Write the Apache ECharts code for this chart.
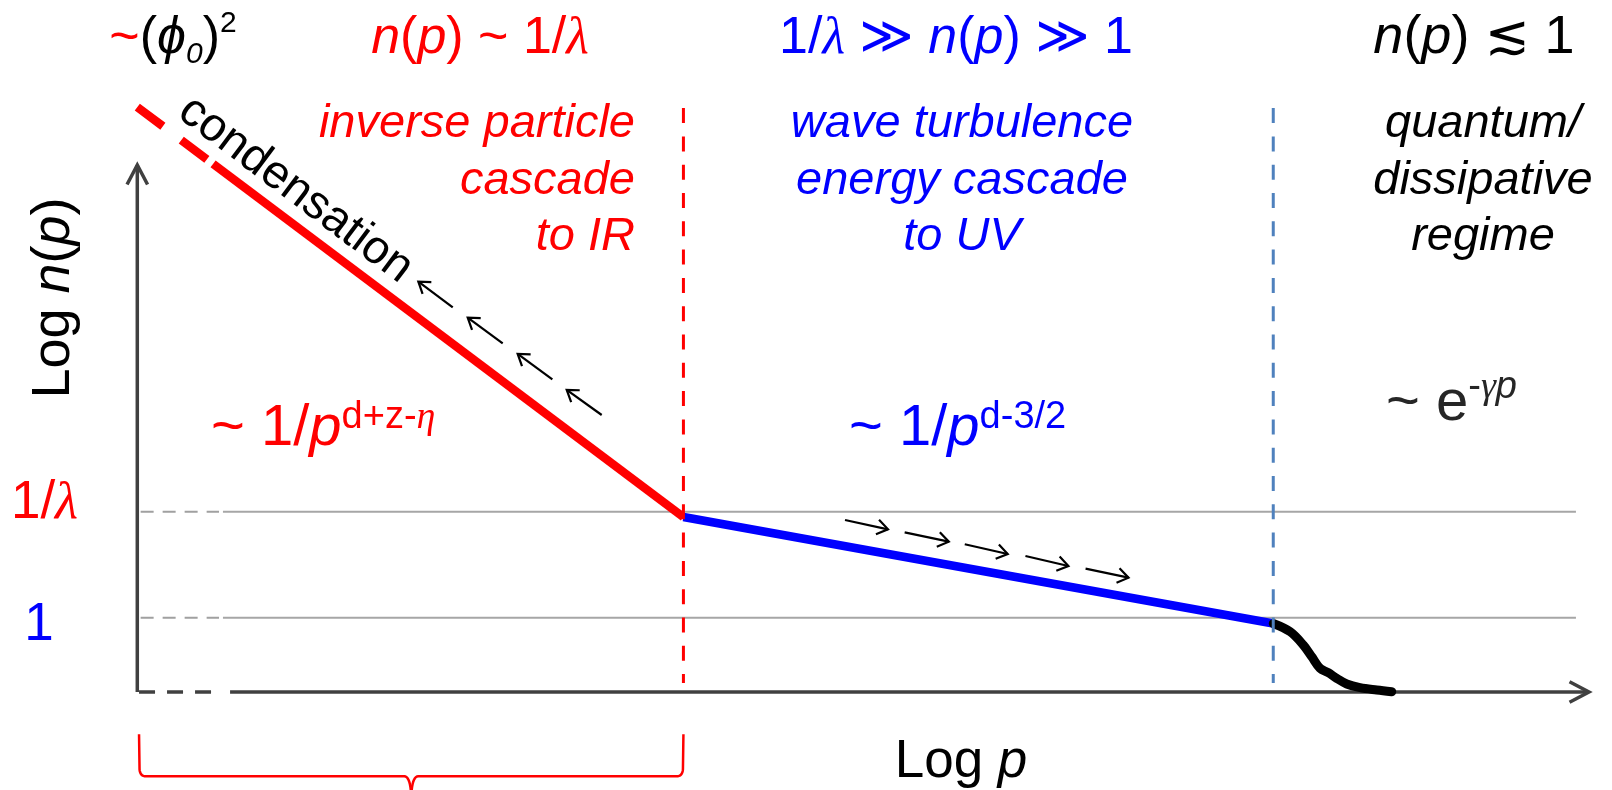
<!DOCTYPE html>
<html>
<head>
<meta charset="utf-8">
<script src="https://cdn.jsdelivr.net/npm/echarts@6/dist/echarts.min.js"></script>
<style>
  html, body { margin: 0; padding: 0; background: #ffffff; }
  #chart { width: 1612px; height: 790px; }
</style>
</head>
<body>
<div id="chart"></div>
<script>
// Schematic occupation-number spectrum n(p) on log-log axes:
// condensate, inverse particle cascade, wave-turbulence energy cascade
// and the quantum / dissipative tail.

// axis extents (arbitrary logarithmic units)
const xRange = [0, 10];
const yRange = [0, 10];

// reference levels on the Log n(p) axis and their tick labels
const levelValues = [3.42, 1.41];
const levelLabels = ['1/λ', '1'];

// regime boundaries on the Log p axis
const boundaryX = [3.762, 7.825];
const boundaryY = [11.08, 0.17];

// spectrum: condensate stub (dashed), IR power law, UV power law, exponential tail
const condensateX = [0, 0.488];
const condensateY = [11.1, 10.09];
const infraredX = [0.522, 3.762];
const infraredY = [10.02, 3.32];
const ultravioletX = [3.762, 7.825];
const ultravioletY = [3.32, 1.30];
const tailX = [7.825, 7.941, 8.032, 8.090, 8.147, 8.204, 8.262, 8.331, 8.423, 8.538, 8.641];
const tailY = [1.30, 1.144, 0.892, 0.670, 0.450, 0.366, 0.260, 0.152, 0.082, 0.038, 0.006];

// flow arrows: [xTail, yTail, xHead, yHead]
const inverseFlow = [
  [2.173, 7.300, 1.936, 7.786],
  [2.517, 6.617, 2.276, 7.102],
  [2.859, 5.934, 2.620, 6.414],
  [3.199, 5.256, 2.958, 5.731]
];
const directFlow = [
  [4.875, 3.264, 5.171, 3.087],
  [5.286, 3.030, 5.590, 2.852],
  [5.700, 2.803, 5.996, 2.619],
  [6.118, 2.581, 6.414, 2.391],
  [6.532, 2.340, 6.828, 2.169]
];

// axes drawn as arrows, with a broken stretch near the origin
const axisArrows = [
  [0.639, 0, 10, 0],
  [0, 0, 0, 10]
];
const xAxisBrokenX = [0.012, 0.51];
const levelDashedX = [0.023, 0.563];
const levelSolidX = [0.59, 9.91];

// brace under the infrared region: [xLeft, xRight, yTop, yBar, yTip]
const braceSpan = [[0.012, 3.762, -0.80, -1.60, -2.01]];

const RED = '#ff0000', BLUE = '#0000ff', BLACK = '#000000', DARK = '#262626';
const AXIS = '#404040', GRID = '#a6a6a6', STEEL = '#4f81bd';
const SANS = "'Liberation Sans', Arial, 'DejaVu Sans', sans-serif";
const SERIF = "'Liberation Serif', 'Times New Roman', 'DejaVu Serif', serif";

// ---- text layout helpers: runs of differently styled text on a common baseline
const measureCtx = document.createElement('canvas').getContext('2d');
function fontOf(s) {
  return (s.it ? 'italic ' : '') + s.size + 'px ' + (s.fam || SANS);
}
function midToBaseline(font) {
  measureCtx.font = font;
  measureCtx.textBaseline = 'middle';
  const m = measureCtx.measureText('H');
  return m.actualBoundingBoxDescent;
}
function run(t, size, color, extra) {
  return Object.assign({ t: t, size: size, color: color }, extra || {});
}
function mathLine(segs, x, y, align, rotation) {
  const widths = segs.map(s => { measureCtx.font = fontOf(s); return measureCtx.measureText(s.t).width; });
  const total = widths.reduce((a, b) => a + b, 0);
  let cx = align === 'center' ? -total / 2 : (align === 'right' ? -total : 0);
  const children = segs.map((s, i) => {
    const f = fontOf(s);
    const el = {
      type: 'text',
      x: cx,
      y: (s.dy || 0) - midToBaseline(f),
      style: { text: s.t, font: f, fill: s.color, align: 'left', verticalAlign: 'middle' }
    };
    cx += widths[i];
    return el;
  });
  return { type: 'group', x: x, y: y, rotation: rotation || 0, children: children, silent: true };
}

// ---- headings above each regime
const H = 52, HS = 30;
const lam = (size, color) => run('λ', size, color, { fam: SERIF, it: 1 });
const headings = [
  mathLine([run('~', H, RED), run('(', H, BLACK), run('ϕ', H, BLACK, { it: 1 }),
            run('0', HS, BLACK, { it: 1, dy: 10 }), run(')', H, BLACK), run('2', HS, BLACK, { dy: -21 })],
           173, 53, 'center'),
  mathLine([run('n', H, RED, { it: 1 }), run('(', H, RED), run('p', H, RED, { it: 1 }), run(')', H, RED),
            run(' ~ 1/', H, RED), lam(H, RED)],
           480, 53, 'center'),
  mathLine([run('1/', H, BLUE), lam(H, BLUE), run(' ≫ ', H, BLUE),
            run('n', H, BLUE, { it: 1 }), run('(', H, BLUE), run('p', H, BLUE, { it: 1 }), run(')', H, BLUE),
            run(' ≫ 1', H, BLUE)],
           956, 53, 'center'),
  mathLine([run('n', 54, BLACK, { it: 1 }), run('(', 54, BLACK), run('p', 54, BLACK, { it: 1 }), run(')', 54, BLACK),
            run(' ≲ 1', 54, BLACK)],
           1474, 53, 'center')
];

// ---- regime descriptions
const descBaselines = [137, 194, 250];
const descriptions = [
  { lines: ['inverse particle', 'cascade', 'to IR'], color: RED, x: 635, align: 'right' },
  { lines: ['wave turbulence', 'energy cascade', 'to UV'], color: BLUE, x: 962, align: 'center' },
  { lines: ['quantum/', 'dissipative', 'regime'], color: BLACK, x: 1483, align: 'center' }
];
const descElements = [];
descriptions.forEach(d => d.lines.forEach((line, i) => {
  descElements.push(mathLine([run(line, 47, d.color, { it: 1 })], d.x, descBaselines[i], d.align));
}));

// ---- scaling laws
const F = 58, FS = 38;
const laws = [
  mathLine([run('~ 1/', F, RED), run('p', F, RED, { it: 1 }), run('d+z-', FS, RED, { dy: -17 }),
            run('η', FS, RED, { it: 1, fam: SERIF, dy: -17 })], 211, 445, 'left'),
  mathLine([run('~ 1/', F, BLUE), run('p', F, BLUE, { it: 1 }), run('d-3/2', FS, BLUE, { dy: -17 })],
           849, 445, 'left'),
  mathLine([run('~ e', F, DARK), run('-', FS, DARK, { dy: -22 }), run('γ', FS, DARK, { it: 1, fam: SERIF, dy: -22 }),
            run('p', FS, DARK, { it: 1, dy: -22 })], 1386, 420, 'left')
];

// ---- axis titles and the condensation note
const titles = [
  mathLine([run('Log ', 54, BLACK), run('n', 54, BLACK, { it: 1 }), run('(', 54, BLACK),
            run('p', 54, BLACK, { it: 1 }), run(')', 54, BLACK)], 69, 298, 'center', Math.PI / 2),
  mathLine([run('Log ', 53, BLACK), run('p', 53, BLACK, { it: 1 })], 961, 777, 'center'),
  mathLine([run('condensation', 47, BLACK)], 176, 116, 'left', -0.644)
];

// tick label styling (one entry per level)
const levelLabelRuns = [
  [run('1/', 53, RED), lam(53, RED)],
  [run('1', 53, BLUE)]
];
const levelLabelX = [44.5, 39];
const levelLabelShift = [6.6, 22.3];

function pairs(xs, ys) { return xs.map((x, i) => [x, ys[i]]); }

function arrowRenderer(width, head, spread, color) {
  return function (params, api) {
    const a = api.coord([api.value(0), api.value(1)]);
    const b = api.coord([api.value(2), api.value(3)]);
    const ang = Math.atan2(b[1] - a[1], b[0] - a[0]);
    const w1 = [b[0] - head * Math.cos(ang - spread), b[1] - head * Math.sin(ang - spread)];
    const w2 = [b[0] - head * Math.cos(ang + spread), b[1] - head * Math.sin(ang + spread)];
    return {
      type: 'group',
      children: [
        { type: 'polyline', shape: { points: [a, b] }, style: { stroke: color, lineWidth: width, fill: null } },
        { type: 'polyline', shape: { points: [w1, b, w2] }, style: { stroke: color, lineWidth: width, fill: null, lineJoin: 'miter' } }
      ]
    };
  };
}

function quad(p0, c, p1, n) {
  const pts = [];
  for (let i = 0; i <= n; i++) {
    const t = i / n, u = 1 - t;
    pts.push([u * u * p0[0] + 2 * u * t * c[0] + t * t * p1[0], u * u * p0[1] + 2 * u * t * c[1] + t * t * p1[1]]);
  }
  return pts;
}

function renderBrace(params, api) {
  const left = api.coord([api.value(0), api.value(2)]);
  const right = api.coord([api.value(1), api.value(2)]);
  const bar = api.coord([api.value(0), api.value(3)])[1];
  const tip = api.coord([api.value(0), api.value(4)])[1];
  const xc = (left[0] + right[0]) / 2;
  const r = 7;
  const leftHalf = [[left[0], left[1]]]
    .concat(quad([left[0] + 0.5, bar - r], [left[0] + 1, bar], [left[0] + r, bar], 8))
    .concat(quad([xc - r, bar], [xc - 0.5, bar], [xc, tip], 10));
  const rightHalf = [[right[0], right[1]]]
    .concat(quad([right[0] - 0.5, bar - r], [right[0] - 1, bar], [right[0] - r, bar], 8))
    .concat(quad([xc + r, bar], [xc + 0.5, bar], [xc, tip], 10));
  const st = { stroke: RED, lineWidth: 2.5, fill: null };
  return { type: 'group', children: [
    { type: 'polyline', shape: { points: leftHalf }, style: st },
    { type: 'polyline', shape: { points: rightHalf }, style: st }
  ] };
}

function renderLevelLabel(params, api) {
  const i = api.value(1);
  const p = api.coord([0, api.value(0)]);
  return mathLine(levelLabelRuns[i], levelLabelX[i], p[1] + levelLabelShift[i], 'center');
}

function lineSeries(data, color, width, extra) {
  return Object.assign({
    type: 'line', data: data, showSymbol: false, symbol: 'none', clip: false, silent: true,
    lineStyle: { color: color, width: width, cap: 'butt' }
  }, extra || {});
}

const series = [];
// reference levels
levelValues.forEach(v => {
  series.push(lineSeries(levelDashedX.map(x => [x, v]), '#a0a0a0', 2, { z: 1, lineStyle: { color: '#a0a0a0', width: 2, type: [13, 9] } }));
  series.push(lineSeries(levelSolidX.map(x => [x, v]), GRID, 2, { z: 1 }));
});
// broken stretch of the Log p axis near the origin
series.push(lineSeries(xAxisBrokenX.map(x => [x, 0]), AXIS, 3.5, { z: 2, lineStyle: { color: AXIS, width: 3.5, type: [16, 12] } }));
// axes
series.push({
  type: 'custom', coordinateSystem: 'cartesian2d', silent: true, z: 2,
  dimensions: ['x1', 'y1', 'x2', 'y2'], encode: { x: [0, 2], y: [1, 3] },
  renderItem: arrowRenderer(3.5, 22, 0.485, AXIS), data: axisArrows
});
// spectrum
series.push(lineSeries(pairs(condensateX, condensateY), RED, 8.5, { z: 3, lineStyle: { color: RED, width: 8.5, type: [32, 23] } }));
series.push(lineSeries(pairs(infraredX, infraredY), RED, 8.5, { z: 3 }));
series.push(lineSeries(pairs(ultravioletX, ultravioletY), BLUE, 8.5, { z: 3 }));
series.push(lineSeries(pairs(tailX, tailY), BLACK, 9, { z: 3, smooth: 0.35,
  lineStyle: { color: BLACK, width: 9, cap: 'round', join: 'round' } }));
// regime boundaries
series.push(lineSeries(boundaryY.map(y => [boundaryX[0], y]), RED, 3, { z: 4, lineStyle: { color: RED, width: 3, type: [15, 13.3] } }));
series.push(lineSeries(boundaryY.map(y => [boundaryX[1], y]), STEEL, 3, { z: 4, lineStyle: { color: STEEL, width: 3, type: [15, 13.3] } }));
// cascade directions
series.push({
  type: 'custom', coordinateSystem: 'cartesian2d', silent: true, z: 5,
  dimensions: ['x1', 'y1', 'x2', 'y2'], encode: { x: [0, 2], y: [1, 3] },
  renderItem: arrowRenderer(2.2, 13, 0.6, BLACK), data: inverseFlow
});
series.push({
  type: 'custom', coordinateSystem: 'cartesian2d', silent: true, z: 5,
  dimensions: ['x1', 'y1', 'x2', 'y2'], encode: { x: [0, 2], y: [1, 3] },
  renderItem: arrowRenderer(2.2, 13, 0.6, BLACK), data: directFlow
});
// brace marking the infrared range
series.push({
  type: 'custom', coordinateSystem: 'cartesian2d', silent: true, z: 5,
  dimensions: ['xl', 'xr', 'yt', 'yb', 'yp'], encode: { x: [0, 1], y: [2, 3, 4] },
  renderItem: renderBrace, data: braceSpan
});
// tick labels of the reference levels
series.push({
  type: 'custom', coordinateSystem: 'cartesian2d', silent: true, z: 5,
  dimensions: ['level', 'index'], encode: { y: 0 },
  renderItem: renderLevelLabel, data: levelValues.map((v, i) => [v, i])
});

const chart = echarts.init(document.getElementById('chart'), null, { renderer: 'canvas' });
chart.setOption({
  animation: false,
  backgroundColor: '#ffffff',
  grid: { left: 137.3, right: 23, top: 165, bottom: 98, containLabel: false },
  xAxis: { type: 'value', min: xRange[0], max: xRange[1], show: false },
  yAxis: { type: 'value', min: yRange[0], max: yRange[1], show: false },
  series: series,
  graphic: { elements: [].concat(headings, descElements, laws, titles) }
});
</script>
</body>
</html>
